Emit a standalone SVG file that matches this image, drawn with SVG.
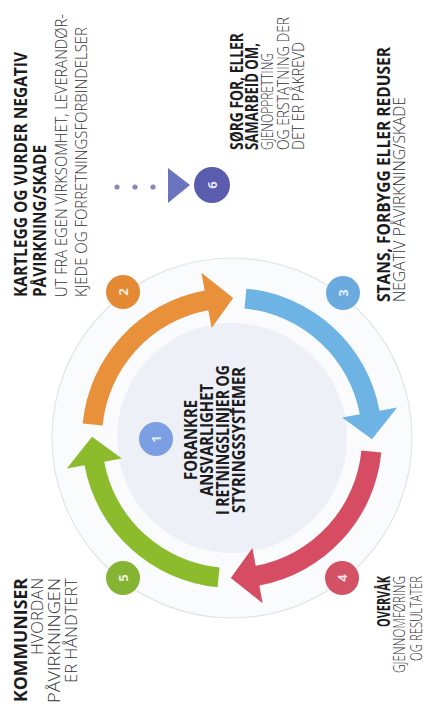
<svg xmlns="http://www.w3.org/2000/svg" width="437" height="709" viewBox="0 0 437 709">
<style>
.b{font-family:"Open Sans","Liberation Sans",sans-serif;font-weight:700;font-size:17px;fill:#1c1c1e}
.l{font-family:"Open Sans","Liberation Sans",sans-serif;font-weight:300;font-size:17px;fill:#333338}
.n{font-family:"Open Sans","Liberation Sans",sans-serif;font-weight:700;font-size:13px;fill:#fff;fill-opacity:.85;text-anchor:middle}
.e{text-anchor:end}
.m{text-anchor:middle}
</style>
<rect width="437" height="709" fill="#ffffff"/>
<g id="background">
<circle cx="232" cy="438" r="180" fill="#fafbfd" stroke="#e3e4e9" stroke-width="1.2"/>
<circle cx="232" cy="438" r="115" fill="#eef0f7"/>
</g>
<g id="connectors">
<path d="M82.69,423.62 A150,150 0 0 1 204.66,290.51 L201.38,272.81 L233.22,298.01 L211.59,327.88 L208.31,310.18 A130,130 0 0 0 102.60,425.54 Z" fill="#e9903b"/>
<path d="M246.38,288.69 A150,150 0 0 1 379.49,410.66 L397.19,407.38 L371.99,439.22 L342.12,417.59 L359.82,414.31 A130,130 0 0 0 244.46,308.60 Z" fill="#6db4e4"/>
<path d="M381.31,452.38 A150,150 0 0 1 259.34,585.49 L262.62,603.19 L230.78,577.99 L252.41,548.12 L255.69,565.82 A130,130 0 0 0 361.40,450.46 Z" fill="#d64c62"/>
<path d="M217.62,587.31 A150,150 0 0 1 84.51,465.34 L66.81,468.62 L92.01,436.78 L121.88,458.41 L104.18,461.69 A130,130 0 0 0 219.54,567.40 Z" fill="#8cbc2c"/>
<circle cx="117" cy="187" r="2.6" fill="#8a86b8"/>
<circle cx="135" cy="187" r="2.6" fill="#8a86b8"/>
<circle cx="153" cy="187" r="2.6" fill="#8a86b8"/>
<path d="M168,168 L190,185 L168,203 Z" fill="#6b74bf"/>
</g>
<g id="node-1">
<circle cx="156" cy="439" r="17" fill="#7c9ee2"/>
<text class="n" transform="translate(156,439) rotate(-90)" y="4.5">1</text>
<g transform="translate(0,440) rotate(-90)">
<text class="b m" x="0" y="197" textLength="80" lengthAdjust="spacingAndGlyphs">FORANKRE</text>
<text class="b m" x="0" y="213" textLength="112" lengthAdjust="spacingAndGlyphs">ANSVARLIGHET</text>
<text class="b m" x="0" y="229" textLength="150" lengthAdjust="spacingAndGlyphs">I RETNINGSLINJER OG</text>
<text class="b m" x="0" y="245" textLength="146" lengthAdjust="spacingAndGlyphs">STYRINGSSYSTEMER</text>
</g>
</g>
<g id="node-2">
<circle cx="123" cy="292" r="17" fill="#e48a35"/>
<text class="n" transform="translate(123,292) rotate(-90)" y="4.5">2</text>
<g transform="translate(0,297) rotate(-90)">
<text class="b" x="0" y="27" textLength="245" lengthAdjust="spacingAndGlyphs">KARTLEGG OG VURDER NEGATIV</text>
<text class="b" x="0" y="46" textLength="152" lengthAdjust="spacingAndGlyphs">PÅVIRKNING/SKADE</text>
<text class="l" x="0" y="67" textLength="283" lengthAdjust="spacingAndGlyphs">UT FRA EGEN VIRKSOMHET, LEVERANDØR-</text>
<text class="l" x="0" y="87" textLength="270" lengthAdjust="spacingAndGlyphs">KJEDE OG FORRETNINGSFORBINDELSER</text>
</g>
</g>
<g id="node-3">
<circle cx="343" cy="293" r="17" fill="#6aaade"/>
<text class="n" transform="translate(343,293) rotate(-90)" y="4.5">3</text>
<g transform="translate(0,302) rotate(-90)">
<text class="b" x="0" y="390" textLength="255" lengthAdjust="spacingAndGlyphs">STANS, FORBYGG ELLER REDUSER</text>
<text class="l" x="0" y="405" textLength="205" lengthAdjust="spacingAndGlyphs">NEGATIV PÅVIRKNING/SKADE</text>
</g>
</g>
<g id="node-4">
<circle cx="342" cy="578" r="17" fill="#d35266"/>
<text class="n" transform="translate(342,578) rotate(-90)" y="4.5">4</text>
<g transform="translate(0,576) rotate(-90)">
<text class="b e" x="0" y="390" textLength="51" lengthAdjust="spacingAndGlyphs">OVERVÅK</text>
<text class="l e" x="0" y="405" textLength="97" lengthAdjust="spacingAndGlyphs">GJENNOMFØRING</text>
<text class="l e" x="0" y="422" textLength="85" lengthAdjust="spacingAndGlyphs">OG RESULTATER</text>
</g>
</g>
<g id="node-5">
<circle cx="123" cy="578" r="17" fill="#84b431"/>
<text class="n" transform="translate(123,578) rotate(-90)" y="4.5">5</text>
<g transform="translate(0,578) rotate(-90)">
<text class="b e" x="0" y="27" textLength="124" lengthAdjust="spacingAndGlyphs">KOMMUNISER</text>
<text class="l e" x="0" y="43" textLength="77" lengthAdjust="spacingAndGlyphs">HVORDAN</text>
<text class="l e" x="0" y="60" textLength="125" lengthAdjust="spacingAndGlyphs">PÅVIRKNINGEN</text>
<text class="l e" x="0" y="77" textLength="105" lengthAdjust="spacingAndGlyphs">ER HÅNDTERT</text>
</g>
</g>
<g id="node-6">
<circle cx="212" cy="185" r="18" fill="#5a5cae"/>
<text class="n" transform="translate(212,185) rotate(-90)" y="4.5">6</text>
<g transform="translate(0,150) rotate(-90)">
<text class="b" x="0" y="243" textLength="117" lengthAdjust="spacingAndGlyphs">SØRG FOR, ELLER</text>
<text class="b" x="0" y="258" textLength="107" lengthAdjust="spacingAndGlyphs">SAMARBEID OM,</text>
<text class="l" x="0" y="273" textLength="97" lengthAdjust="spacingAndGlyphs">GJENOPPRETTING</text>
<text class="l" x="0" y="289" textLength="133" lengthAdjust="spacingAndGlyphs">OG ERSTATNING DER</text>
<text class="l" x="0" y="304" textLength="108" lengthAdjust="spacingAndGlyphs">DET ER PÅKREVD</text>
</g>
</g>
</svg>
